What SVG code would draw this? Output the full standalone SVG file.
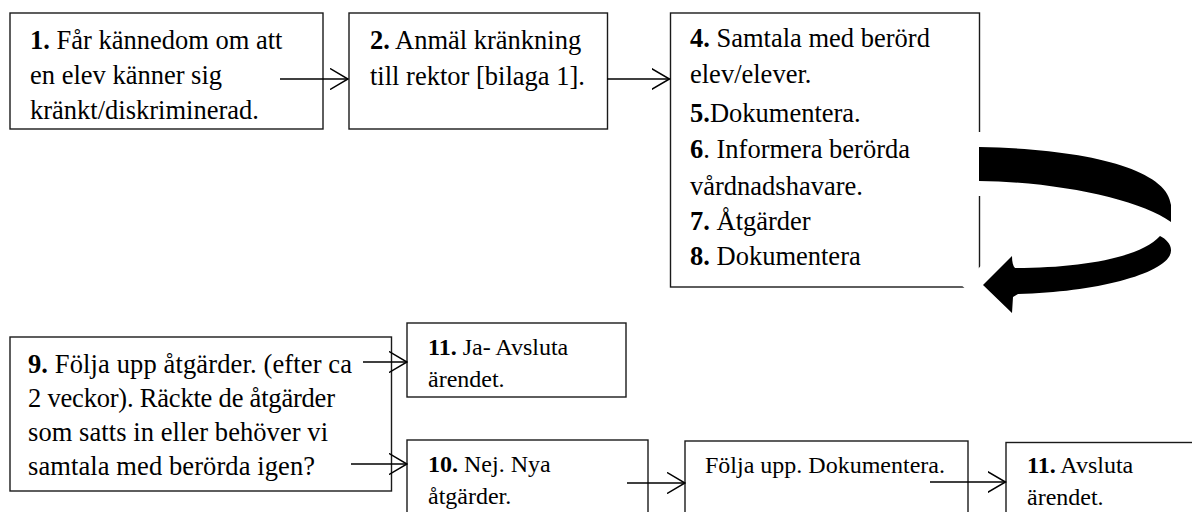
<svg xmlns="http://www.w3.org/2000/svg" width="1192" height="512" viewBox="0 0 1192 512">
<defs>
<style>
.box{fill:#fff;stroke:#1a1a1a;stroke-width:1.4}
.t{font-size:26.5px;fill:#000}
.s{font-size:24px;fill:#000}
.b{font-weight:bold}
.ln{fill:none;stroke:#000;stroke-width:1.5}
.curve{fill:#000;stroke:#fff;stroke-width:30;stroke-linejoin:miter;paint-order:stroke}
</style>
<marker id="ah" viewBox="0 0 19 22" refX="18" refY="11" markerWidth="19" markerHeight="22" markerUnits="userSpaceOnUse" orient="auto">
<path d="M0,0.5 L18,11 L0,21.5" fill="none" stroke="#000" stroke-width="1.5"/>
</marker>
</defs>
<rect width="1192" height="512" fill="#fff"/>
<g font-family="Liberation Serif, Times New Roman, Tinos, serif">
<g id="node1">
<rect class="box" x="10" y="13" width="313" height="116"/>
<text class="t" x="30" y="49"><tspan class="b">1.</tspan> Får kännedom om att</text>
<text class="t" x="30" y="84">en elev känner sig</text>
<text class="t" x="30" y="119">kränkt/diskriminerad.</text>
</g>

<g id="node2">
<rect class="box" x="349" y="13" width="258.5" height="116"/>
<text class="t" x="370" y="49"><tspan class="b">2.</tspan> Anmäl kränkning</text>
<text class="t" x="370" y="85">till rektor [bilaga 1].</text>
</g>

<g id="node4">
<rect class="box" x="670.5" y="13" width="309" height="274"/>
<text class="t" x="690" y="47"><tspan class="b">4.</tspan> Samtala med berörd</text>
<text class="t" x="690" y="83">elev/elever.</text>
<text class="t" x="690" y="122"><tspan class="b">5.</tspan>Dokumentera.</text>
<text class="t" x="690" y="158"><tspan class="b">6</tspan>. Informera berörda</text>
<text class="t" x="690" y="195">vårdnadshavare.</text>
<text class="t" x="690" y="230"><tspan class="b">7.</tspan> Åtgärder</text>
<text class="t" x="690" y="265"><tspan class="b">8.</tspan> Dokumentera</text>
</g>

<g id="node9">
<rect class="box" x="10" y="337" width="381.5" height="154"/>
<text class="t" x="28" y="373" textLength="324" lengthAdjust="spacing"><tspan class="b">9.</tspan> Följa upp åtgärder. (efter ca</text>
<text class="t" x="28" y="407" textLength="307" lengthAdjust="spacing">2 veckor). Räckte de åtgärder</text>
<text class="t" x="28" y="441" textLength="300" lengthAdjust="spacing">som satts in eller behöver vi</text>
<text class="t" x="28" y="475" textLength="287" lengthAdjust="spacing">samtala med berörda igen?</text>
</g>

<g id="node11a">
<rect class="box" x="407" y="323" width="219" height="74"/>
<text class="s" x="428" y="355"><tspan class="b">11.</tspan> Ja- Avsluta</text>
<text class="s" x="428" y="387">ärendet.</text>
</g>

<g id="node10">
<rect class="box" x="407" y="440" width="241" height="90"/>
<text class="s" x="428" y="472"><tspan class="b">10.</tspan> Nej. Nya</text>
<text class="s" x="428" y="504">åtgärder.</text>
</g>

<g id="nodeFolja">
<rect class="box" x="685" y="441" width="283" height="90"/>
<text class="s" x="705" y="473">Följa upp. Dokumentera.</text>
</g>

<g id="node11b">
<rect class="box" x="1006" y="442.5" width="200" height="90"/>
<text class="s" x="1027" y="473"><tspan class="b">11.</tspan> Avsluta</text>
<text class="s" x="1027" y="505">ärendet.</text>
</g>
</g>
<g id="connectors">
<line class="ln" x1="280" y1="79" x2="348" y2="79" marker-end="url(#ah)"/>
<line class="ln" x1="607" y1="79" x2="669.5" y2="79" marker-end="url(#ah)"/>
<line class="ln" x1="363" y1="362" x2="407" y2="362" marker-end="url(#ah)"/>
<line class="ln" x1="351" y1="464" x2="407" y2="464" marker-end="url(#ah)"/>
<line class="ln" x1="627" y1="483" x2="685" y2="483" marker-end="url(#ah)"/>
<line class="ln" x1="930" y1="482" x2="1005.5" y2="482" marker-end="url(#ah)"/>
<path class="curve" d="M979,147 C1090,149 1168,170 1171,205 L1171,222 C1140,200 1060,182 979,181 Z"/>
<path class="curve" d="M1160,236 C1166,239 1171,244 1171,250 C1172,272 1100,292 1018,294 L1013,297 L1012,313 L983,285 L1012,256 C1012,262 1013,266 1015,268 C1080,268 1140,258 1160,236 Z"/>
</g>
</svg>
